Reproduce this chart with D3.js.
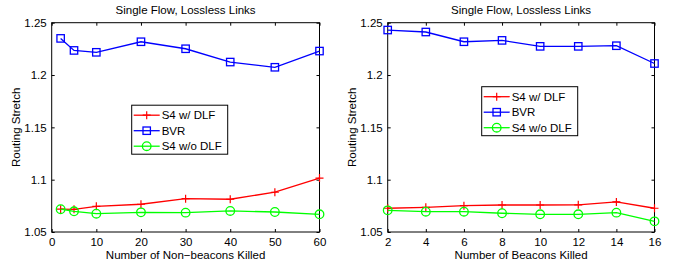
<!DOCTYPE html>
<html>
<head>
<meta charset="utf-8">
<script src="https://cdn.jsdelivr.net/npm/d3@7"></script>
<style>
  body { margin: 0; background: #fff; }
  text { font-family: "Liberation Sans", Arial, sans-serif; fill: #000; }
</style>
</head>
<body>
<svg id="chart" width="681" height="266"></svg>
<script>
// data
var xNonBeacons = [2, 5, 10, 20, 30, 40, 50, 60];
var s4DlfLeft   = [1.0718, 1.0717, 1.0745, 1.0765, 1.0818, 1.0813, 1.0880, 1.1015];
var bvrLeft     = [1.2350, 1.2235, 1.2217, 1.2318, 1.2251, 1.2124, 1.2074, 1.2229];
var s4NoDlfLeft = [1.0718, 1.0698, 1.0675, 1.0688, 1.0685, 1.0701, 1.0691, 1.0669];

var xBeacons     = [2, 4, 6, 8, 10, 12, 14, 16];
var s4DlfRight   = [1.0727, 1.0736, 1.0752, 1.0758, 1.0758, 1.0760, 1.0787, 1.0727];
var bvrRight     = [1.2430, 1.2411, 1.2318, 1.2331, 1.2274, 1.2274, 1.2280, 1.2110];
var s4NoDlfRight = [1.0707, 1.0694, 1.0694, 1.0679, 1.0669, 1.0669, 1.0685, 1.0602];

var yTicks = [1.05, 1.1, 1.15, 1.2, 1.25];
var yTickLabels = ["1.05", "1.1", "1.15", "1.2", "1.25"];
var xTicksLeft = [0, 10, 20, 30, 40, 50, 60];
var xTicksRight = [2, 4, 6, 8, 10, 12, 14, 16];
var seriesNames = ["S4 w/ DLF", "BVR", "S4 w/o DLF"];
var seriesColors = ["#ff0000", "#0000ff", "#00ff00"];
var seriesMarkers = ["plus", "square", "circle"];

var fontSize = "11.5px";
var svg = d3.select("#chart");

function marker(g, kind, color) {
  if (kind == "plus") {
    g.append("path").attr("d", "M-4,0H4M0,-4V4").attr("stroke", color).attr("stroke-width", 1.2).attr("fill", "none");
  } else if (kind == "square") {
    g.append("rect").attr("x", -3.7).attr("y", -3.7).attr("width", 7.4).attr("height", 7.4)
      .attr("stroke", color).attr("stroke-width", 1.3).attr("fill", "none");
  } else {
    g.append("circle").attr("r", 4.3).attr("stroke", color).attr("stroke-width", 1.3).attr("fill", "none");
  }
}

function panel(opt) {
  var g = svg.append("g");
  var x = d3.scaleLinear().domain(opt.xDomain).range([opt.left, opt.right]);
  var y = d3.scaleLinear().domain([1.05, 1.25]).range([opt.bottom, opt.top]);

  // box
  g.append("rect").attr("x", opt.left).attr("y", opt.top)
    .attr("width", opt.right - opt.left).attr("height", opt.bottom - opt.top)
    .attr("fill", "none").attr("stroke", "#000").attr("stroke-width", 1);

  // axes, ticks pointing inward like matlab
  var xa = g.append("g").attr("transform", "translate(0," + opt.bottom + ")")
    .call(d3.axisBottom(x).tickValues(opt.xTicks).tickSizeInner(-3).tickSizeOuter(0).tickPadding(6));
  var xt = g.append("g").attr("transform", "translate(0," + opt.top + ")")
    .call(d3.axisTop(x).tickValues(opt.xTicks).tickSizeInner(-3).tickSizeOuter(0).tickFormat(""));
  var ya = g.append("g").attr("transform", "translate(" + opt.left + ",0)")
    .call(d3.axisLeft(y).tickValues(yTicks).tickSizeInner(-3).tickSizeOuter(0).tickPadding(5)
      .tickFormat(function(d, i) { return yTickLabels[i]; }));
  var yr = g.append("g").attr("transform", "translate(" + opt.right + ",0)")
    .call(d3.axisRight(y).tickValues(yTicks).tickSizeInner(-3).tickSizeOuter(0).tickFormat(""));
  [xa, xt, ya, yr].forEach(function(a) {
    a.select(".domain").remove();
    a.selectAll("text").style("font-size", fontSize).attr("fill", "#000");
    a.selectAll("line").attr("stroke", "#000");
  });

  var line = d3.line().x(function(d) { return x(d[0]); }).y(function(d) { return y(d[1]); });

  // draw order: red, blue, green
  opt.series.forEach(function(vals, k) {
    var pts = opt.xs.map(function(v, i) { return [v, vals[i]]; });
    g.append("path").datum(pts).attr("d", line).attr("fill", "none")
      .attr("stroke", seriesColors[k]).attr("stroke-width", 1.3);
    pts.forEach(function(p) {
      var m = g.append("g").attr("transform", "translate(" + x(p[0]) + "," + y(p[1]) + ")");
      marker(m, seriesMarkers[k], seriesColors[k]);
    });
  });

  // titles
  var cx = (opt.left + opt.right) / 2;
  g.append("text").attr("x", cx).attr("y", 13.5).attr("text-anchor", "middle")
    .style("font-size", fontSize).text("Single Flow, Lossless Links");
  g.append("text").attr("x", cx).attr("y", 259).attr("text-anchor", "middle")
    .style("font-size", fontSize).text(opt.xLabel);
  g.append("text").attr("transform", "translate(" + opt.yLabelX + "," + ((opt.top + opt.bottom) / 2) + ") rotate(-90)")
    .attr("text-anchor", "middle").style("font-size", fontSize).text("Routing Stretch");

  // legend
  var lg = g.append("g").attr("transform", "translate(" + opt.legX + "," + opt.legY + ")");
  lg.append("rect").attr("width", 96).attr("height", 49).attr("fill", "#fff")
    .attr("stroke", "#000").attr("stroke-width", 1);
  seriesNames.forEach(function(name, k) {
    var ry = 10 + k * 15.5;
    lg.append("line").attr("x1", 2).attr("x2", 28).attr("y1", ry).attr("y2", ry)
      .attr("stroke", seriesColors[k]).attr("stroke-width", 1.3);
    marker(lg.append("g").attr("transform", "translate(15," + ry + ")"), seriesMarkers[k], seriesColors[k]);
    lg.append("text").attr("x", 30).attr("y", ry + 4).style("font-size", fontSize).text(name);
  });
}

panel({
  left: 51.7, right: 319.5, top: 22.7, bottom: 232,
  xDomain: [0, 60], xTicks: xTicksLeft, xs: xNonBeacons,
  series: [s4DlfLeft, bvrLeft, s4NoDlfLeft],
  xLabel: "Number of Non\u2212beacons Killed", yLabelX: 20,
  legX: 131.7, legY: 105.2
});

panel({
  left: 387.7, right: 654.5, top: 22.7, bottom: 232,
  xDomain: [2, 16], xTicks: xTicksRight, xs: xBeacons,
  series: [s4DlfRight, bvrRight, s4NoDlfRight],
  xLabel: "Number of Beacons Killed", yLabelX: 356,
  legX: 481.7, legY: 86.7
});
</script>
</body>
</html>
